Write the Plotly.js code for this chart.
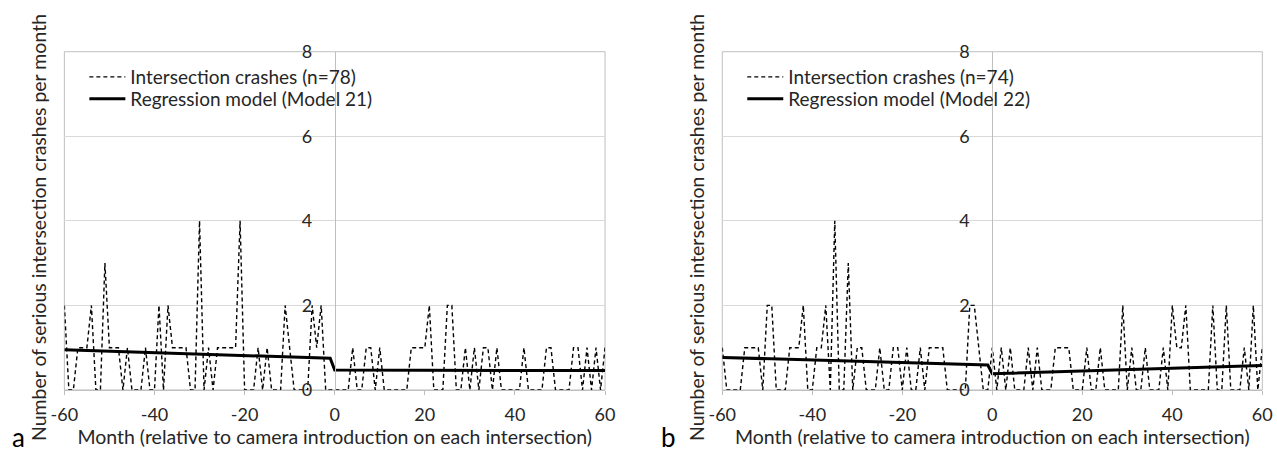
<!DOCTYPE html>
<html>
<head>
<meta charset="utf-8">
<script src="https://cdn.plot.ly/plotly-3.0.1.min.js"></script>
<style>html,body{margin:0;padding:0;background:#fff;}#chart{width:1277px;height:452px;}</style>
</head>
<body>
<div id="chart"></div>
<script>
// Month relative to camera introduction
const months = [-60,-59,-58,-57,-56,-55,-54,-53,-52,-51,-50,-49,-48,-47,-46,-45,-44,-43,-42,-41,
-40,-39,-38,-37,-36,-35,-34,-33,-32,-31,-30,-29,-28,-27,-26,-25,-24,-23,-22,-21,
-20,-19,-18,-17,-16,-15,-14,-13,-12,-11,-10,-9,-8,-7,-6,-5,-4,-3,-2,-1,
0,1,2,3,4,5,6,7,8,9,10,11,12,13,14,15,16,17,18,19,20,21,22,23,24,25,26,27,28,29,
30,31,32,33,34,35,36,37,38,39,40,41,42,43,44,45,46,47,48,49,50,51,52,53,54,55,56,57,58,59,60];

// Panel a: serious intersection crashes per month (n=78)
const crashesA = [2,0,0,1,1,1,2,0,0,3,
1,1,1,0,1,0,0,0,1,0,
0,2,0,2,1,1,1,1,0,0,
4,0,1,0,1,1,1,1,1,4,
0,0,0,1,0,1,0,0,0,2,
1,0,0,0,0,2,1,2,0,0,
0,0,0,0,1,0,0,1,1,0,
1,0,0,0,0,0,0,1,1,1,
1,2,0,0,0,2,2,0,0,1,
0,1,0,1,1,0,1,0,0,0,
0,0,1,0,0,0,0,1,1,0,
0,0,0,1,1,0,1,0,1,0,1];

// Panel b: serious intersection crashes per month (n=74)
const crashesB = [1,0,0,0,0,1,1,1,1,0,
2,2,0,0,0,1,1,1,2,0,
0,1,1,2,0,4,0,0,3,0,
1,1,0,0,0,1,0,0,1,1,
0,1,0,0,1,0,1,1,1,1,
0,0,0,0,0,2,2,1,0,0,
1,0,1,0,1,0,0,0,1,0,
1,0,0,0,1,1,1,1,0,0,
0,1,0,0,1,0,0,0,0,2,
0,1,0,0,1,0,0,0,1,0,
2,1,1,2,0,0,0,0,0,2,
0,0,2,0,0,0,1,0,2,0,1];

// Regression models (segmented: before / after camera introduction)
const regMonths = [-60, -1, 0, 60];
const regA = [0.95, 0.75, 0.47, 0.46];
const regB = [0.77, 0.59, 0.385, 0.58];

const xTickVals = [-60, -40, -20, 0, 20, 40, 60];
const xTickText = ['-60', '-40', '-20', '0', '20', '40', '60'];
const yTickVals = [0, 2, 4, 6, 8];
const yTickText = ['0', '2', '4', '6', '8'];

const nameCrashA = 'Intersection crashes (n=78)';
const nameRegA = 'Regression model (Model 21)';
const nameCrashB = 'Intersection crashes (n=74)';
const nameRegB = 'Regression model (Model 22)';
const xTitle = 'Month (relative to camera introduction on each intersection)';
const yTitle = 'Number of serious intersection crashes per month';
const panelLabels = ['a', 'b'];

const FONT = 'Lato, "Open Sans", sans-serif';
const TXT = '#262626';
const GRID = '#d9d9d9';
const AXL = '#bfbfbf';

const domA = [0.0504, 0.4738];
const domB = [0.5656, 0.9885];
const domY = [0.1372, 0.8856];

const dashStyle = {color: '#000', width: 1.4, dash: '4px,3px'};
const solidStyle = {color: '#000', width: 3};

const traces = [
  {x: months, y: crashesA, type: 'scatter', mode: 'lines', name: nameCrashA, line: dashStyle, xaxis: 'x', yaxis: 'y', legend: 'legend'},
  {x: regMonths, y: regA, type: 'scatter', mode: 'lines', name: nameRegA, line: solidStyle, xaxis: 'x', yaxis: 'y', legend: 'legend2'},
  {x: months, y: crashesB, type: 'scatter', mode: 'lines', name: nameCrashB, line: dashStyle, xaxis: 'x2', yaxis: 'y2', legend: 'legend3'},
  {x: regMonths, y: regB, type: 'scatter', mode: 'lines', name: nameRegB, line: solidStyle, xaxis: 'x2', yaxis: 'y2', legend: 'legend4'}
];

function xAxis(dom, anchor) {
  return {
    domain: dom, anchor: anchor, range: [-60, 60], tickmode: 'array',
    tickvals: xTickVals, ticktext: xTickText, showgrid: false, zeroline: false,
    showline: true, linecolor: AXL, linewidth: 1, ticks: 'outside', ticklen: 4, tickcolor: AXL,
    ticklabelstandoff: 4,
    tickfont: {family: FONT, size: 18, color: TXT},
    title: {text: xTitle, font: {family: FONT, size: 19.5, color: TXT}, standoff: 1},
    fixedrange: true
  };
}
function yAxis(dom) {
  return {
    domain: domY, anchor: 'free', position: (dom[0] + dom[1]) / 2,
    range: [0, 8], tickmode: 'array', tickvals: yTickVals, ticktext: yTickText,
    showgrid: true, gridcolor: GRID, gridwidth: 1, zeroline: false,
    showline: true, linecolor: AXL, linewidth: 1, ticks: '', ticklabelstandoff: 19,
    tickfont: {family: FONT, size: 18, color: TXT}, fixedrange: true
  };
}

function legendCfg(dom, topPx) {
  return {
    x: dom[0] + 20 / 1277, y: (452 - topPx) / 452, xanchor: 'left', yanchor: 'top',
    bgcolor: 'rgba(255,255,255,0)', borderwidth: 0, itemwidth: 36,
    font: {family: FONT, size: 19, color: TXT}, tracegroupgap: 0, traceorder: 'normal'
  };
}

const layout = {
  width: 1277, height: 452, margin: {l: 0, r: 0, t: 0, b: 0},
  paper_bgcolor: '#fff', plot_bgcolor: '#fff', showlegend: true,
  font: {family: FONT, color: TXT},
  xaxis: xAxis(domA, 'y'),
  yaxis: yAxis(domA),
  xaxis2: xAxis(domB, 'y2'),
  yaxis2: yAxis(domB),
  legend: legendCfg(domA, 58),
  legend2: legendCfg(domA, 80),
  legend3: legendCfg(domB, 58),
  legend4: legendCfg(domB, 80),
  shapes: [
    {type: 'rect', xref: 'x domain', yref: 'y domain', x0: 0, x1: 1, y0: 0, y1: 1, line: {color: AXL, width: 1}, layer: 'below'},
    {type: 'rect', xref: 'x2 domain', yref: 'y2 domain', x0: 0, x1: 1, y0: 0, y1: 1, line: {color: AXL, width: 1}, layer: 'below'}
  ],
  annotations: [
    {text: yTitle, xref: 'paper', yref: 'paper', x: 38 / 1277, y: (452 - 228) / 452, textangle: -90, showarrow: false, font: {family: FONT, size: 19.5, color: TXT}, xanchor: 'center', yanchor: 'middle'},
    {text: yTitle, xref: 'paper', yref: 'paper', x: 696 / 1277, y: (452 - 228) / 452, textangle: -90, showarrow: false, font: {family: FONT, size: 19.5, color: TXT}, xanchor: 'center', yanchor: 'middle'},
    {text: panelLabels[0], xref: 'paper', yref: 'paper', x: 18 / 1277, y: (452 - 437) / 452, showarrow: false, font: {family: FONT, size: 26, color: '#000'}, xanchor: 'center', yanchor: 'middle'},
    {text: panelLabels[1], xref: 'paper', yref: 'paper', x: 668 / 1277, y: (452 - 437) / 452, showarrow: false, font: {family: FONT, size: 26, color: '#000'}, xanchor: 'center', yanchor: 'middle'}
  ]
};

Plotly.newPlot('chart', traces, layout, {displayModeBar: false, staticPlot: true});
</script>
</body>
</html>
